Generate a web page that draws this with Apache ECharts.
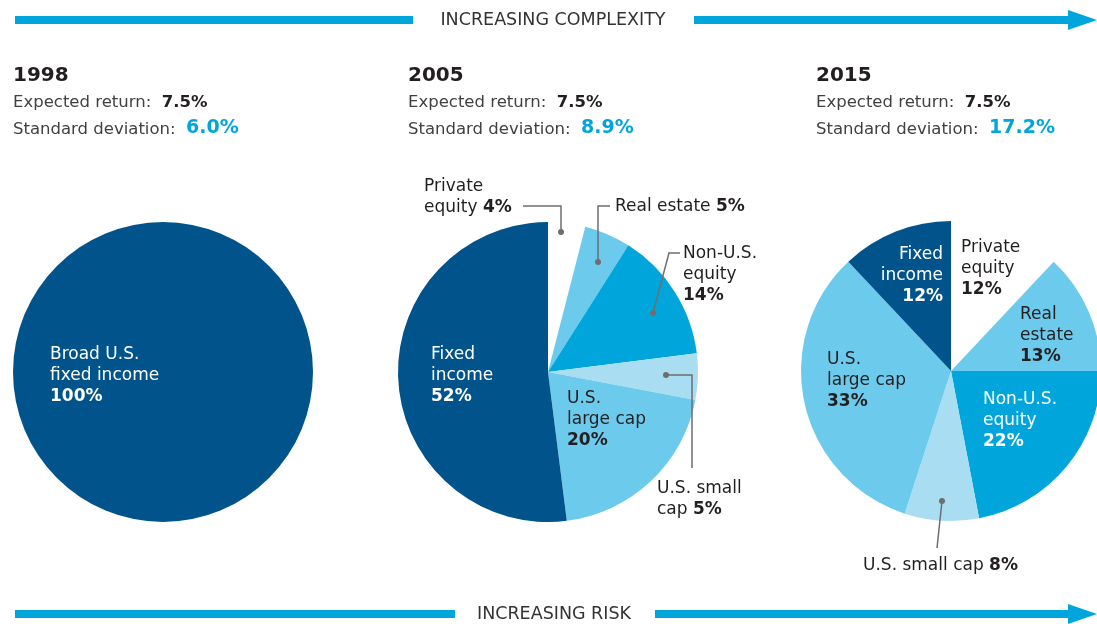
<!DOCTYPE html>
<html>
<head>
<meta charset="utf-8">
<script src="https://cdn.jsdelivr.net/npm/echarts@6/dist/echarts.min.js"></script>
<style>
    html, body { margin: 0; padding: 0; background: #fff; }
    #chart { width: 1097px; height: 624px; }
</style>
</head>
<body>
<div id="chart"></div>
<script>
    // 数据
    const years = ['1998', '2005', '2015']
    const expectedReturn = ['7.5%', '7.5%', '7.5%']
    const stdDeviation = ['6.0%', '8.9%', '17.2%']

    const cats1998 = ['Broad U.S. fixed income']
    const vals1998 = [100]

    const cats2005 = ['Private equity', 'Real estate', 'Non-U.S. equity', 'U.S. small cap', 'U.S. large cap', 'Fixed income']
    const vals2005 = [4, 5, 14, 5, 20, 52]

    const cats2015 = ['Private equity', 'Real estate', 'Non-U.S. equity', 'U.S. small cap', 'U.S. large cap', 'Fixed income']
    const vals2015 = [12, 13, 22, 8, 33, 12]

    // 样式
    const FONT = '"DejaVu Sans", sans-serif'
    const DARK = '#231f20'
    const GRAY = '#414042'
    const ARROW = '#00a6db'
    const LEADER = '#6d6e71'
    const LABEL_SIZE = 17
    const colorMap = {
        'Broad U.S. fixed income': '#00538b',
        'Fixed income': '#00538b',
        'Private equity': '#ffffff',
        'Real estate': '#6ccaec',
        'Non-U.S. equity': '#00a6db',
        'U.S. small cap': '#a9ddf2',
        'U.S. large cap': '#6ccaec'
    }

    // 标签布局: 文字换行 / 位置
    const labels1998 = {
        'Broad U.S. fixed income': {text: ['Broad U.S.', 'fixed income'], nl: true, white: true, x: 50, y: 344}
    }
    const labels2005 = {
        'Private equity': {text: ['Private', 'equity'], nl: false, x: 424, y: 176},
        'Real estate': {text: ['Real estate'], nl: false, x: 615, y: 196},
        'Non-U.S. equity': {text: ['Non-U.S.', 'equity'], nl: true, x: 683, y: 243},
        'U.S. small cap': {text: ['U.S. small', 'cap'], nl: false, x: 657, y: 478},
        'U.S. large cap': {text: ['U.S.', 'large cap'], nl: true, x: 567, y: 388},
        'Fixed income': {text: ['Fixed', 'income'], nl: true, white: true, x: 431, y: 344}
    }
    const labels2015 = {
        'Private equity': {text: ['Private', 'equity'], nl: true, x: 961, y: 237},
        'Real estate': {text: ['Real', 'estate'], nl: true, x: 1020, y: 304},
        'Non-U.S. equity': {text: ['Non-U.S.', 'equity'], nl: true, white: true, x: 983, y: 389},
        'U.S. small cap': {text: ['U.S. small cap'], nl: false, x: 863, y: 555},
        'U.S. large cap': {text: ['U.S.', 'large cap'], nl: true, x: 827, y: 349},
        'Fixed income': {text: ['Fixed', 'income'], nl: true, white: true, right: true, x: 943, y: 244}
    }

    // 引导线 (点 -> 拐点 -> 文字)
    const leaders = [
        [[561, 232], [561, 206], [523, 206]],
        [[598, 262], [598, 206], [610, 206]],
        [[653, 313], [669, 253], [680, 253]],
        [[666, 375], [692, 375], [692, 468]],
        [[942, 501], [937, 548]]
    ]

    function makeSeries(center, cats, vals, layout) {
        return {
            type: 'pie',
            center: center,
            radius: 150,
            startAngle: 90,
            clockwise: true,
            avoidLabelOverlap: false,
            silent: true,
            data: cats.map((name, i) => {
                const cfg = layout[name]
                const tag = cfg.white ? 'w' : 'd'
                const bold = cfg.white ? 'wb' : 'db'
                let str = cfg.text.map(t => `{${tag}|${t}}`).join('\n')
                if (cfg.nl) {
                    str += `\n{${bold}|${vals[i]}%}`
                } else {
                    str += `{${tag}| }{${bold}|${vals[i]}%}`
                }
                return {
                    name: name,
                    value: vals[i],
                    itemStyle: {color: colorMap[name]},
                    label: {
                        show: true,
                        position: 'inside',
                        formatter: str,
                        align: cfg.right ? 'right' : 'left'
                    },
                    labelLine: {show: false}
                }
            }),
            label: {
                fontFamily: FONT,
                lineHeight: 21,
                rich: {
                    d: {color: DARK, fontSize: LABEL_SIZE, fontFamily: FONT, lineHeight: 21},
                    db: {color: DARK, fontSize: LABEL_SIZE, fontWeight: 'bold', fontFamily: FONT, lineHeight: 21},
                    w: {color: '#fff', fontSize: LABEL_SIZE, fontFamily: FONT, lineHeight: 21},
                    wb: {color: '#fff', fontSize: LABEL_SIZE, fontWeight: 'bold', fontFamily: FONT, lineHeight: 21}
                }
            },
            labelLayout: function (params) {
                const cfg = layout[cats[params.dataIndex]]
                return {
                    x: cfg.x,
                    y: cfg.y,
                    align: cfg.right ? 'right' : 'left',
                    verticalAlign: 'top'
                }
            }
        }
    }

    // 顶部 / 底部箭头
    function arrow(y, x1, x2, x3, text, textX) {
        return [
            {type: 'rect', shape: {x: 15, y: y - 4, width: x1 - 15, height: 8}, style: {fill: ARROW}},
            {type: 'rect', shape: {x: x2, y: y - 4, width: x3 - x2, height: 8}, style: {fill: ARROW}},
            {type: 'polygon', shape: {points: [[x3 - 2, y - 10], [1097, y], [x3 - 2, y + 10]]}, style: {fill: ARROW}},
            {
                type: 'text', x: textX, y: y,
                style: {text: text, fill: '#333', font: `17.5px ${FONT}`, align: 'center', verticalAlign: 'middle'}
            }
        ]
    }

    // 标题文字
    const headerX = [13, 408, 816]
    const headers = []
    years.forEach((yr, i) => {
        headers.push({
            type: 'text', x: headerX[i], y: 66,
            style: {text: yr, fill: DARK, font: `bold 20px ${FONT}`}
        })
        headers.push({
            type: 'text', x: headerX[i], y: 94,
            style: {
                text: `{n|Expected return:  }{b|${expectedReturn[i]}}`,
                rich: {
                    n: {fill: GRAY, font: `16.5px ${FONT}`},
                    b: {fill: DARK, font: `bold 16.5px ${FONT}`}
                }
            }
        })
        headers.push({
            type: 'text', x: headerX[i], y: 119,
            style: {
                text: `{n|Standard deviation:  }{c|${stdDeviation[i]}}`,
                rich: {
                    n: {fill: GRAY, font: `16.5px ${FONT}`, verticalAlign: 'bottom'},
                    c: {fill: ARROW, font: `bold 19px ${FONT}`, verticalAlign: 'bottom'}
                }
            }
        })
    })

    const chart = echarts.init(document.getElementById('chart'), null, {renderer: 'canvas'})
    chart.setOption({
        backgroundColor: '#fff',
        animation: false,
        series: [
            makeSeries([163, 372], cats1998, vals1998, labels1998),
            makeSeries([548, 372], cats2005, vals2005, labels2005),
            makeSeries([951, 371], cats2015, vals2015, labels2015)
        ],
        graphic: [
            ...arrow(20, 413, 694, 1070, 'INCREASING COMPLEXITY', 553),
            ...arrow(614, 455, 655, 1070, 'INCREASING RISK', 554),
            ...headers,
            ...leaders.map(pts => ({
                type: 'polyline', z: 100, shape: {points: pts}, style: {stroke: LEADER, lineWidth: 1.5, fill: null}
            })),
            ...leaders.map(pts => ({
                type: 'circle', z: 101, shape: {cx: pts[0][0], cy: pts[0][1], r: 3}, style: {fill: LEADER}
            }))
        ]
    })
</script>
</body>
</html>
